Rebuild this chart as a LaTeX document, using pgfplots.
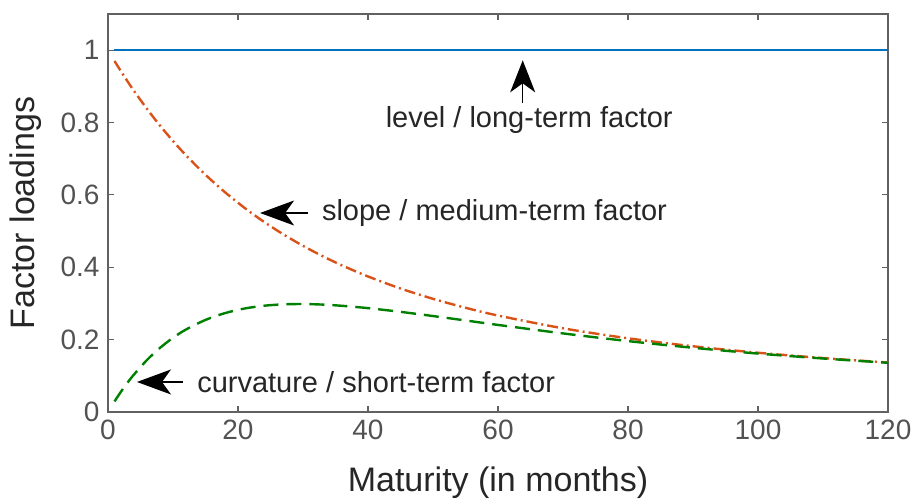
\documentclass[border=0pt]{standalone}
\usepackage{pgfplots}
\pgfplotsset{compat=1.18}
\usepackage{fontspec}
\setmainfont{Liberation Sans}
\usetikzlibrary{arrows.meta}
\definecolor{mblue}{rgb}{0,0.447,0.741}
\definecolor{morange}{rgb}{0.85,0.325,0.098}
\definecolor{mgreen}{rgb}{0,0.5,0}
\definecolor{axgray}{rgb}{0.38,0.38,0.38}
\definecolor{txtgray}{rgb}{0.15,0.15,0.15}
\begin{document}
\begin{tikzpicture}
\begin{axis}[
  scale only axis, width=780pt, height=398pt,
  xmin=0, xmax=120, ymin=0, ymax=1.1,
  xtick={0,20,40,60,80,100,120},
  ytick={0,0.2,0.4,0.6,0.8,1},
  yticklabels={0,0.2,0.4,0.6,0.8,1},
  xticklabels={0,20,40,60,80,100,120},
  tick align=inside, major tick length=6pt,
  axis line style={axgray, line width=1.3pt},
  every tick/.style={axgray, line width=1.1pt},
  tick label style={font=\fontsize{28}{32}\selectfont, text=txtgray!80!white},
  xticklabel style={yshift=-4pt},
  yticklabel style={xshift=-5pt},
  label style={font=\fontsize{34}{38}\selectfont, text=txtgray},
  xlabel={Maturity (in months)},
  ylabel={Factor loadings},
  xlabel style={at={(axis description cs:0.5,-0.178)}, anchor=center},
  ylabel style={at={(axis description cs:-0.106,0.5)}, anchor=center},
  /pgf/number format/assume math mode=true,
  clip=false,
]
\addplot[mblue, line width=2.4pt] coordinates {(1,1) (120,1)};
\addplot[morange, line width=2.4pt, smooth, dash pattern=on 11pt off 4pt on 2pt off 4pt] coordinates {
(1,0.9701) (2,0.9415) (3,0.9140) (4,0.8874) (6,0.8377) (8,0.7915) (10,0.7490)
(12,0.7095) (15,0.6556) (18,0.6074) (21,0.5643) (24,0.5255) (27,0.4907)
(30,0.4593) (33,0.4309) (36,0.4052) (40,0.3746) (45,0.3413) (50,0.3128)
(55,0.2881) (60,0.2666) (70,0.2313) (80,0.2037) (90,0.1817) (100,0.1638)
(110,0.1491) (120,0.1367)};
\addplot[mgreen, line width=2.4pt, smooth, dash pattern=on 15pt off 8pt] coordinates {
(1,0.0292) (2,0.0562) (3,0.0810) (4,0.1036) (6,0.1438) (8,0.1772) (10,0.2051)
(12,0.2280) (15,0.2545) (18,0.2733) (21,0.2860) (24,0.2937) (27,0.2976)
(30,0.2984) (33,0.2969) (36,0.2935) (40,0.2871) (45,0.2768) (50,0.2652)
(55,0.2530) (60,0.2407) (70,0.2172) (80,0.1960) (90,0.1775) (100,0.1615)
(110,0.1479) (120,0.1360)};
% annotations
\draw[-{Stealth[length=32pt,width=25pt,inset=9pt]}, line width=1.3pt, black]
  (axis cs:63.8,0.854) -- (axis cs:63.8,0.972);
\node[font=\fontsize{29}{33}\selectfont, text=txtgray, anchor=center] at (axis cs:64.8,0.807) {level / long-term factor};
\draw[-{Stealth[length=34pt,width=25pt,inset=9pt]}, line width=1.3pt, black]
  (axis cs:30.8,0.55) -- (axis cs:23.4,0.55);
\node[font=\fontsize{29}{33}\selectfont, text=txtgray, anchor=west, inner sep=0pt] at (axis cs:32.9,0.55) {slope / medium-term factor};
\draw[-{Stealth[length=34pt,width=25pt,inset=9pt]}, line width=1.3pt, black]
  (axis cs:11.5,0.083) -- (axis cs:4.46,0.083);
\node[font=\fontsize{29}{33}\selectfont, text=txtgray, anchor=west, inner sep=0pt] at (axis cs:13.7,0.083) {curvature / short-term factor};
\end{axis}
\pgfresetboundingbox
\path ([shift={(-108pt,-86pt)}]current axis.south west) rectangle ([shift={(29pt,14pt)}]current axis.north east);
\end{tikzpicture}
\end{document}
